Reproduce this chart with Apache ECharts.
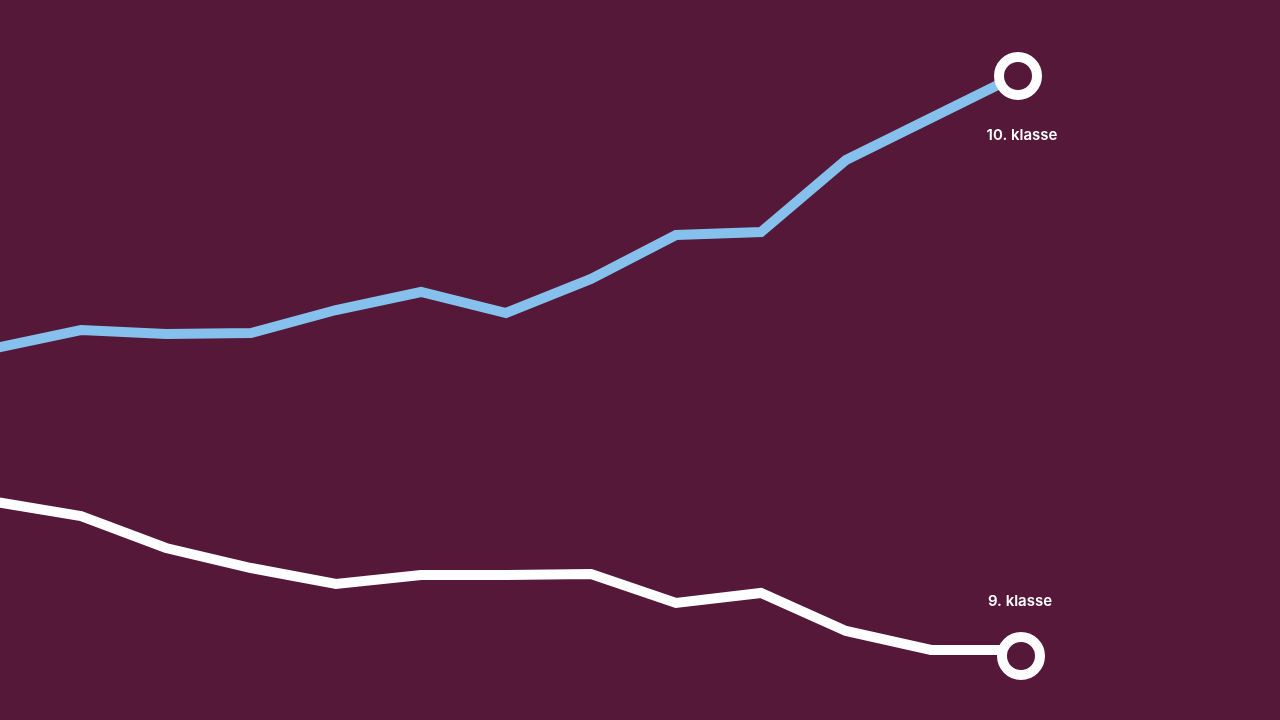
<!DOCTYPE html>
<html>
<head>
<meta charset="utf-8">
<script src="https://cdn.jsdelivr.net/npm/echarts@6/dist/echarts.min.js"></script>
<style>
html,body{margin:0;padding:0;background:#561839;}
#c{width:1280px;height:720px;}
</style>
</head>
<body>
<div id="c"></div>
<script>
const periods = [0,1,2,3,4,5,6,7,8,9,10,11,12];
const klasse10 = [37.2, 39.0, 38.6, 38.7, 41.0, 42.8, 40.7, 44.1, 48.5, 48.8, 56.0, 60.2, 64.4];
const klasse9 = [21.8, 20.4, 17.2, 15.2, 13.6, 14.5, 14.5, 14.6, 11.7, 12.7, 8.9, 7.0, 7.0];
const labels = ['10. klasse', '9. klasse'];

const BG = '#561839';
const BLUE = '#85C1EC';
const WHITE = '#FFFFFF';

function mk(xs, ys, label, off, symOff) {
  const last = ys.length - 1;
  return ys.map((v, i) => {
    const d = { value: [xs[i], v] };
    if (i === last) {
      d.symbol = 'circle';
      d.symbolSize = 38;
      d.symbolOffset = symOff;
      d.itemStyle = { color: BG, borderColor: WHITE, borderWidth: 10 };
      d.label = {
        show: true, formatter: label, position: 'inside', offset: off,
        color: WHITE, fontFamily: 'Inter', fontWeight: 600, fontSize: 15
      };
    } else {
      d.symbol = 'none';
    }
    return d;
  });
}

const chart = echarts.init(document.getElementById('c'));
chart.setOption({
  backgroundColor: BG,
  animation: false,
  grid: { left: 0, right: 264, top: 0, bottom: 0 },
  xAxis: { type: 'value', min: 0.047, max: 12, show: false },
  yAxis: { type: 'value', min: 0, max: 72, show: false },
  series: [
    {
      type: 'line', z: 3, clip: false,
      data: mk(periods, klasse10, labels[0], [4, 59], [2, 0]),
      lineStyle: { color: BLUE, width: 10, join: 'miter' },
      showSymbol: true
    },
    {
      type: 'line', z: 3, clip: false,
      data: mk(periods, klasse9, labels[1], [-1, -55], [5, 6]),
      lineStyle: { color: WHITE, width: 10, join: 'miter' },
      showSymbol: true
    }
  ]
});
</script>
</body>
</html>
